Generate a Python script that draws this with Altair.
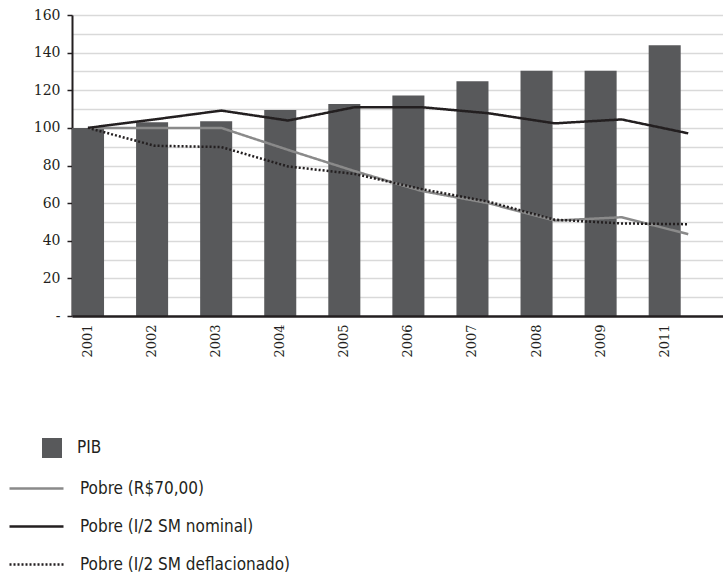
import altair as alt
import pandas as pd

years = ["2001", "2002", "2003", "2004", "2005", "2006", "2007", "2008", "2009", "2011"]
pib = [100, 103, 103.5, 109.5, 112.7, 117.2, 124.8, 130.4, 130.4, 143.9]
pobre_70 = [100, 100, 100, 88.3, 77, 66.5, 60, 50.7, 52.5, 43.5]
pobre_nominal = [100, 104.5, 109.2, 103.9, 111, 111, 107.8, 102.4, 104.5, 97.1]
pobre_defl = [100, 90.5, 89.8, 79.5, 75.5, 67.5, 60.8, 51.2, 49.2, 48.8]

bar_name = "PIB"
line_names = ["Pobre (R$70,00)", "Pobre (I/2 SM nominal)", "Pobre (I/2 SM deflacionado)"]
line_colors = ["#8a8a8a", "#231f20", "#231f20"]
line_dashes = [[1, 0], [1, 0], [2, 2]]

bar_df = pd.DataFrame({"ano": years, "valor": pib, "serie": bar_name})
line_df = pd.concat([
    pd.DataFrame({"ano": years, "valor": vals, "serie": name})
    for name, vals in zip(line_names, [pobre_70, pobre_nominal, pobre_defl])
])

serif = "DejaVu Serif"
sans = "Liberation Sans Narrow, DejaVu Sans Condensed, sans-serif"
ink = "#231f20"

yaxis = alt.Axis(
    values=list(range(0, 161, 10)),
    labelExpr="datum.value % 20 == 0 ? (datum.value == 0 ? '-' : datum.label) : ''",
    tickColor={"condition": {"test": "datum.value % 20 == 0", "value": ink}, "value": "transparent"},
    tickSize=5,
    tickWidth=1.5,
    labelOverlap=False,
    labelFlush=False,
    labelFont=serif,
    labelFontSize=14,
    labelColor=ink,
    labelPadding=7,
    domainColor=ink,
    domainWidth=2,
    gridColor="#d9d9d9",
    gridWidth=1.5,
    title=None,
)

xaxis = alt.Axis(
    labelAngle=270,
    labelFont=serif,
    labelFontSize=13,
    labelColor=ink,
    labelPadding=8,
    ticks=False,
    domainColor=ink,
    domainWidth=2.5,
    grid=False,
    title=None,
    zindex=1,
)

yscale = alt.Scale(domain=[0, 160], nice=False)

bars = alt.Chart(bar_df).mark_bar().encode(
    x=alt.X("ano:N", scale=alt.Scale(paddingInner=0.5, paddingOuter=0.33, align=0), axis=xaxis),
    y=alt.Y("valor:Q", scale=yscale, axis=yaxis),
    fill=alt.Fill(
        "serie:N",
        scale=alt.Scale(domain=[bar_name], range=["#58595b"]),
        legend=alt.Legend(
            title=None, orient="none", legendX=-30, legendY=423,
            symbolType="square", symbolSize=400, symbolStrokeWidth=0,
            labelOffset=15, labelFont=sans, labelFontSize=17, labelColor=ink,
            labelLimit=0, padding=0, offset=0,
        ),
    ),
)

line_legend = alt.Legend(
    title=None, orient="none", legendX=-47, legendY=462,
    symbolType="M-2.7,0H2.7", symbolSize=400, symbolStrokeWidth=2.5,
    labelOffset=32, labelFont=sans, labelFontSize=17, labelColor=ink,
    labelLimit=0, rowPadding=18, padding=0, offset=0,
)

lines = alt.Chart(line_df).mark_line(strokeWidth=2.5).encode(
    x=alt.X("ano:O", scale=alt.Scale(type="point", padding=0.38, align=0.314), axis=None),
    y=alt.Y("valor:Q", scale=yscale, axis=yaxis),
    stroke=alt.Stroke("serie:N", sort=line_names,
                      scale=alt.Scale(domain=line_names, range=line_colors), legend=line_legend),
    strokeDash=alt.StrokeDash("serie:N", sort=line_names,
                              scale=alt.Scale(domain=line_names, range=line_dashes), legend=line_legend),
)

chart = alt.layer(bars, lines).resolve_scale(x="independent", fill="independent").properties(
    width=651,
    height=301,
    autosize=alt.AutoSizeParams(type="none"),
    padding={"left": 72, "top": 15, "right": 0, "bottom": 258},
).configure_view(stroke=None).configure(background="white")

chart.save("out.html", embed_options={"renderer": "svg", "actions": False})
